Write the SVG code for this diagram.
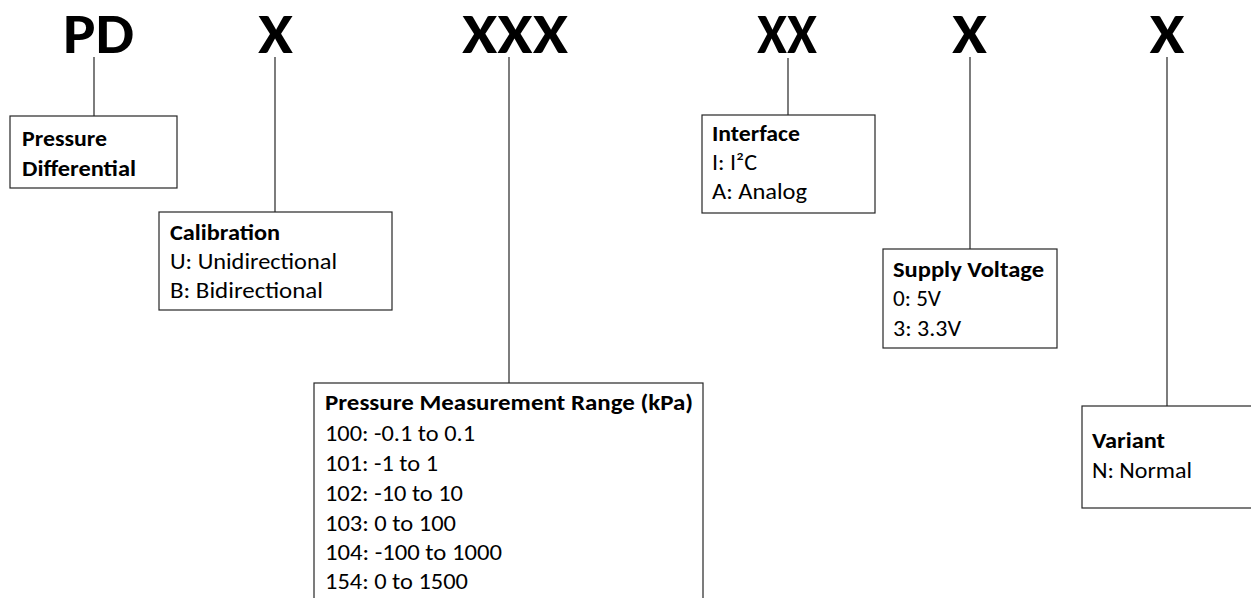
<svg xmlns="http://www.w3.org/2000/svg" width="1251" height="598" viewBox="0 0 1251 598">
<style>
.code{font-family:Carlito,Lato,"Open Sans",sans-serif;font-weight:900;font-size:56px;fill:#000;text-anchor:middle}
.box{fill:#fff;stroke:#262626;stroke-width:1.2}
.t{font-family:Carlito,Lato,"Open Sans",sans-serif;font-size:22px;fill:#000}
.b{font-weight:bold}
.con{stroke:#262626;stroke-width:1.2;fill:none}
</style>
<rect width="1251" height="598" fill="#fff"/>
<g id="codes">
<text class="code" x="98.5" y="53" textLength="71" lengthAdjust="spacingAndGlyphs">PD</text>
<text class="code" x="275.5" y="53" textLength="35" lengthAdjust="spacingAndGlyphs">X</text>
<text class="code" x="515" y="53" textLength="106" lengthAdjust="spacingAndGlyphs">XXX</text>
<text class="code" x="787" y="53" textLength="60" lengthAdjust="spacingAndGlyphs">XX</text>
<text class="code" x="969.5" y="53" textLength="35" lengthAdjust="spacingAndGlyphs">X</text>
<text class="code" x="1167" y="53" textLength="35" lengthAdjust="spacingAndGlyphs">X</text>
</g>
<g id="connectors">
<line class="con" x1="94" y1="57" x2="94" y2="116"/>
<line class="con" x1="275" y1="57" x2="275" y2="212"/>
<line class="con" x1="509" y1="57" x2="509" y2="383"/>
<line class="con" x1="788" y1="58" x2="788" y2="115"/>
<line class="con" x1="970" y1="57" x2="970" y2="249"/>
<line class="con" x1="1167" y1="57" x2="1167" y2="406"/>
</g>
<g id="pressure-differential">
<rect class="box" x="10" y="116" width="167" height="72"/>
<text class="t b" x="22" y="146" textLength="85" lengthAdjust="spacingAndGlyphs">Pressure</text>
<text class="t b" x="22" y="176" textLength="114" lengthAdjust="spacingAndGlyphs">Differential</text>
</g>
<g id="calibration">
<rect class="box" x="159" y="212" width="233" height="98"/>
<text class="t b" x="170" y="240" textLength="110" lengthAdjust="spacingAndGlyphs">Calibration</text>
<text class="t" x="170" y="269" textLength="167" lengthAdjust="spacingAndGlyphs">U: Unidirectional</text>
<text class="t" x="170" y="298" textLength="153" lengthAdjust="spacingAndGlyphs">B: Bidirectional</text>
</g>
<g id="range">
<rect class="box" x="314" y="383" width="389" height="240"/>
<text class="t b" x="325" y="410" textLength="368" lengthAdjust="spacingAndGlyphs">Pressure Measurement Range (kPa)</text>
<text class="t" x="325" y="441" textLength="150" lengthAdjust="spacingAndGlyphs">100: -0.1 to 0.1</text>
<text class="t" x="325" y="471" textLength="113" lengthAdjust="spacingAndGlyphs">101: -1 to 1</text>
<text class="t" x="325" y="501" textLength="138" lengthAdjust="spacingAndGlyphs">102: -10 to 10</text>
<text class="t" x="325" y="531" textLength="131" lengthAdjust="spacingAndGlyphs">103: 0 to 100</text>
<text class="t" x="325" y="560" textLength="177" lengthAdjust="spacingAndGlyphs">104: -100 to 1000</text>
<text class="t" x="325" y="589" textLength="143" lengthAdjust="spacingAndGlyphs">154: 0 to 1500</text>
</g>
<g id="interface">
<rect class="box" x="702" y="115" width="173" height="98"/>
<text class="t b" x="712" y="141" textLength="88" lengthAdjust="spacingAndGlyphs">Interface</text>
<text class="t" x="712" y="170" textLength="45" lengthAdjust="spacingAndGlyphs">I: I²C</text>
<text class="t" x="712" y="199" textLength="95" lengthAdjust="spacingAndGlyphs">A: Analog</text>
</g>
<g id="supply-voltage">
<rect class="box" x="883" y="249" width="174" height="99"/>
<text class="t b" x="893" y="277" textLength="151" lengthAdjust="spacingAndGlyphs">Supply Voltage</text>
<text class="t" x="893" y="306" textLength="48" lengthAdjust="spacingAndGlyphs">0: 5V</text>
<text class="t" x="893" y="336" textLength="68" lengthAdjust="spacingAndGlyphs">3: 3.3V</text>
</g>
<g id="variant">
<rect class="box" x="1082" y="406" width="200" height="102"/>
<text class="t b" x="1092" y="448" textLength="73" lengthAdjust="spacingAndGlyphs">Variant</text>
<text class="t" x="1092" y="478" textLength="100" lengthAdjust="spacingAndGlyphs">N: Normal</text>
</g>
</svg>
